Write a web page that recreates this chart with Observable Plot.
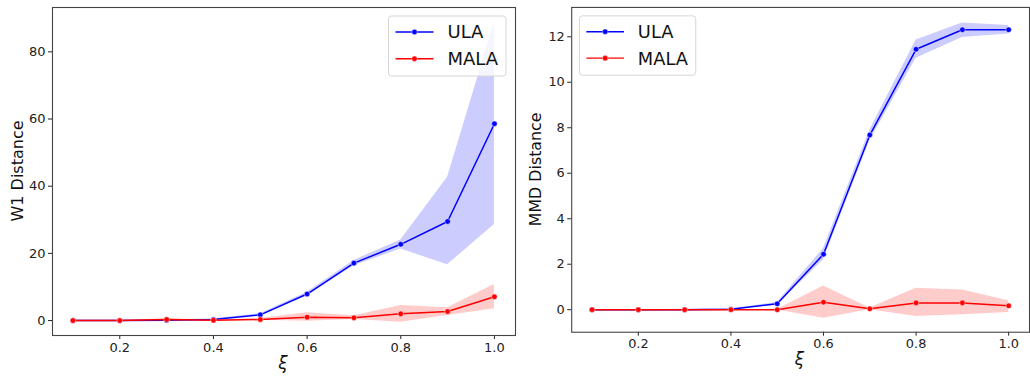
<!DOCTYPE html>
<html>
<head>
<meta charset="utf-8">
<script src="https://cdn.jsdelivr.net/npm/d3@7"></script>
<script src="https://cdn.jsdelivr.net/npm/@observablehq/plot@0.6"></script>
<style>
  html, body { margin: 0; padding: 0; background: #fff; }
  #wrap { position: relative; width: 1030px; height: 377px; overflow: hidden; font-family: "DejaVu Sans", sans-serif; }
  #left { position: absolute; left: 0; top: 0; }
  #right { position: absolute; left: 520px; top: 0; }
</style>
</head>
<body>
<div id="wrap"><div id="left"></div><div id="right"></div></div>
<script>
// ---- data ----
const xi = [0.1, 0.2, 0.3, 0.4, 0.5, 0.6, 0.7, 0.8, 0.9, 1.0];
const seriesNames = ["ULA", "MALA"];
const seriesColors = ["#0000ff", "#ff0000"];

// W1 distance
const w1Ula   = [0.0, 0.0, 0.1, 0.3, 1.7, 7.9, 17.1, 22.7, 29.5, 58.6];
const w1UlaLo = [0.0, 0.0, 0.0, 0.2, 1.4, 7.3, 16.3, 21.3, 16.6, 28.6];
const w1UlaHi = [0.1, 0.1, 0.2, 0.5, 2.0, 8.4, 17.9, 24.0, 42.7, 88.8];
const w1Mala   = [0.0, 0.0, 0.3, 0.1, 0.3, 1.0, 0.8, 2.0, 2.7, 7.1];
const w1MalaLo = [-0.1, -0.1, 0.1, 0.0, 0.1, -0.2, 0.3, -0.5, 1.5, 3.5];
const w1MalaHi = [0.1, 0.1, 0.5, 0.2, 0.6, 2.3, 1.4, 4.5, 3.8, 10.7];

// MMD distance
const mmdUla   = [0.0, 0.0, 0.0, 0.02, 0.26, 2.44, 7.68, 11.45, 12.31, 12.31];
const mmdUlaLo = [0.0, 0.0, 0.0, 0.0, 0.2, 2.2, 7.43, 11.06, 11.97, 12.12];
const mmdUlaHi = [0.0, 0.0, 0.02, 0.04, 0.32, 2.69, 7.9, 11.86, 12.61, 12.5];
const mmdMala   = [0.0, 0.0, 0.0, 0.0, 0.0, 0.33, 0.04, 0.30, 0.30, 0.17];
const mmdMalaLo = [0.0, 0.0, 0.0, 0.0, -0.01, -0.38, 0.0, -0.3, -0.22, -0.12];
const mmdMalaHi = [0.0, 0.0, 0.0, 0.0, 0.01, 1.04, 0.08, 0.94, 0.87, 0.39];

const xTicks = [0.2, 0.4, 0.6, 0.8, 1.0];
const w1Ticks = [0, 20, 40, 60, 80];
const mmdTicks = [0, 2, 4, 6, 8, 10, 12];

function rows(name, mean, lo, hi) {
  return xi.map((x, i) => ({series: name, x, y: mean[i], lo: lo[i], hi: hi[i]}));
}

function panel(opts) {
  const {width, marginLeft, marginRight, xDomain, yDomain, yTicks, ula, mala} = opts;
  const marks = [];
  for (const d of [ula, mala]) {
    const c = seriesColors[seriesNames.indexOf(d[0].series)];
    marks.push(Plot.areaY(d, {x: "x", y1: "lo", y2: "hi", fill: c, fillOpacity: 0.2}));
    marks.push(Plot.line(d, {x: "x", y: "y", stroke: c, strokeWidth: 1.5}));
    marks.push(Plot.dot(d, {x: "x", y: "y", fill: c, r: 2.8, stroke: "#fff", strokeWidth: 0.5}));
  }
  marks.push(Plot.axisX({ticks: xTicks, tickFormat: d3.format(".1f"), tickSize: 4, tickPadding: 3, fontSize: 13, label: null, color: "#222"}));
  marks.push(Plot.axisY({ticks: yTicks, tickSize: 4, tickPadding: 3, fontSize: 13, label: null, color: "#222"}));
  marks.push(Plot.frame({stroke: "#444", strokeWidth: 1.1}));
  return Plot.plot({
    width, height: 377,
    marginLeft, marginRight, marginTop: 7, marginBottom: 42,
    style: {fontFamily: "DejaVu Sans, sans-serif", background: "transparent", overflow: "visible"},
    x: {domain: xDomain},
    y: {domain: yDomain},
    marks
  });
}

function decorate(svgEl, o) {
  const svg = d3.select(svgEl);
  // y label
  svg.append("text")
    .attr("transform", `translate(${o.yLabelX},171) rotate(-90)`)
    .attr("text-anchor", "middle")
    .attr("font-size", 16).attr("fill", "#111")
    .attr("font-family", "DejaVu Sans, sans-serif")
    .text(o.yLabel);
  // x label
  svg.append("text")
    .attr("x", o.xLabelX).attr("y", 369)
    .attr("text-anchor", "middle")
    .attr("font-size", 17).attr("font-style", "italic").attr("fill", "#111")
    .attr("font-family", "DejaVu Sans, sans-serif")
    .text("ξ");
  // legend
  const g = svg.append("g").attr("transform", `translate(${o.legX},16)`);
  g.append("rect").attr("x", 0).attr("y", 0).attr("width", o.legW).attr("height", 60)
    .attr("rx", 3).attr("fill", "#fff").attr("fill-opacity", 0.8)
    .attr("stroke", "#d6d6d6").attr("stroke-width", 1);
  seriesNames.forEach((name, i) => {
    const y = 16 + i * 26.7;
    g.append("line").attr("x1", 7).attr("x2", 45).attr("y1", y).attr("y2", y)
      .attr("stroke", seriesColors[i]).attr("stroke-width", 1.5);
    g.append("circle").attr("cx", 26).attr("cy", y).attr("r", 2.8)
      .attr("fill", seriesColors[i]).attr("stroke", "#fff").attr("stroke-width", 0.5);
    g.append("text").attr("x", 59).attr("y", y).attr("dy", "0.36em")
      .attr("text-anchor", "start")
      .attr("font-size", 18).attr("fill", "#111")
      .attr("font-family", "DejaVu Sans, sans-serif")
      .text(name);
  });
}

const left = panel({
  width: 520, marginLeft: 52, marginRight: 5,
  xDomain: [0.0563, 1.045], yDomain: [-4.45, 93.2], yTicks: w1Ticks,
  ula: rows("ULA", w1Ula, w1UlaLo, w1UlaHi),
  mala: rows("MALA", w1Mala, w1MalaLo, w1MalaHi)
});
document.getElementById("left").append(left);
decorate(left, {yLabel: "W1 Distance", yLabelX: 23, xLabelX: 283, legX: 388.5, legW: 117.5});

const right = panel({
  width: 515, marginLeft: 51.7, marginRight: 1,
  xDomain: [0.056, 1.045], yDomain: [-0.99, 13.29], yTicks: mmdTicks,
  ula: rows("ULA", mmdUla, mmdUlaLo, mmdUlaHi),
  mala: rows("MALA", mmdMala, mmdMalaLo, mmdMalaHi)
});
document.getElementById("right").append(right);
decorate(right, {yLabel: "MMD Distance", yLabelX: 21.7, xLabelX: 282.3, legX: 60, legW: 117.5});
</script>
</body>
</html>
